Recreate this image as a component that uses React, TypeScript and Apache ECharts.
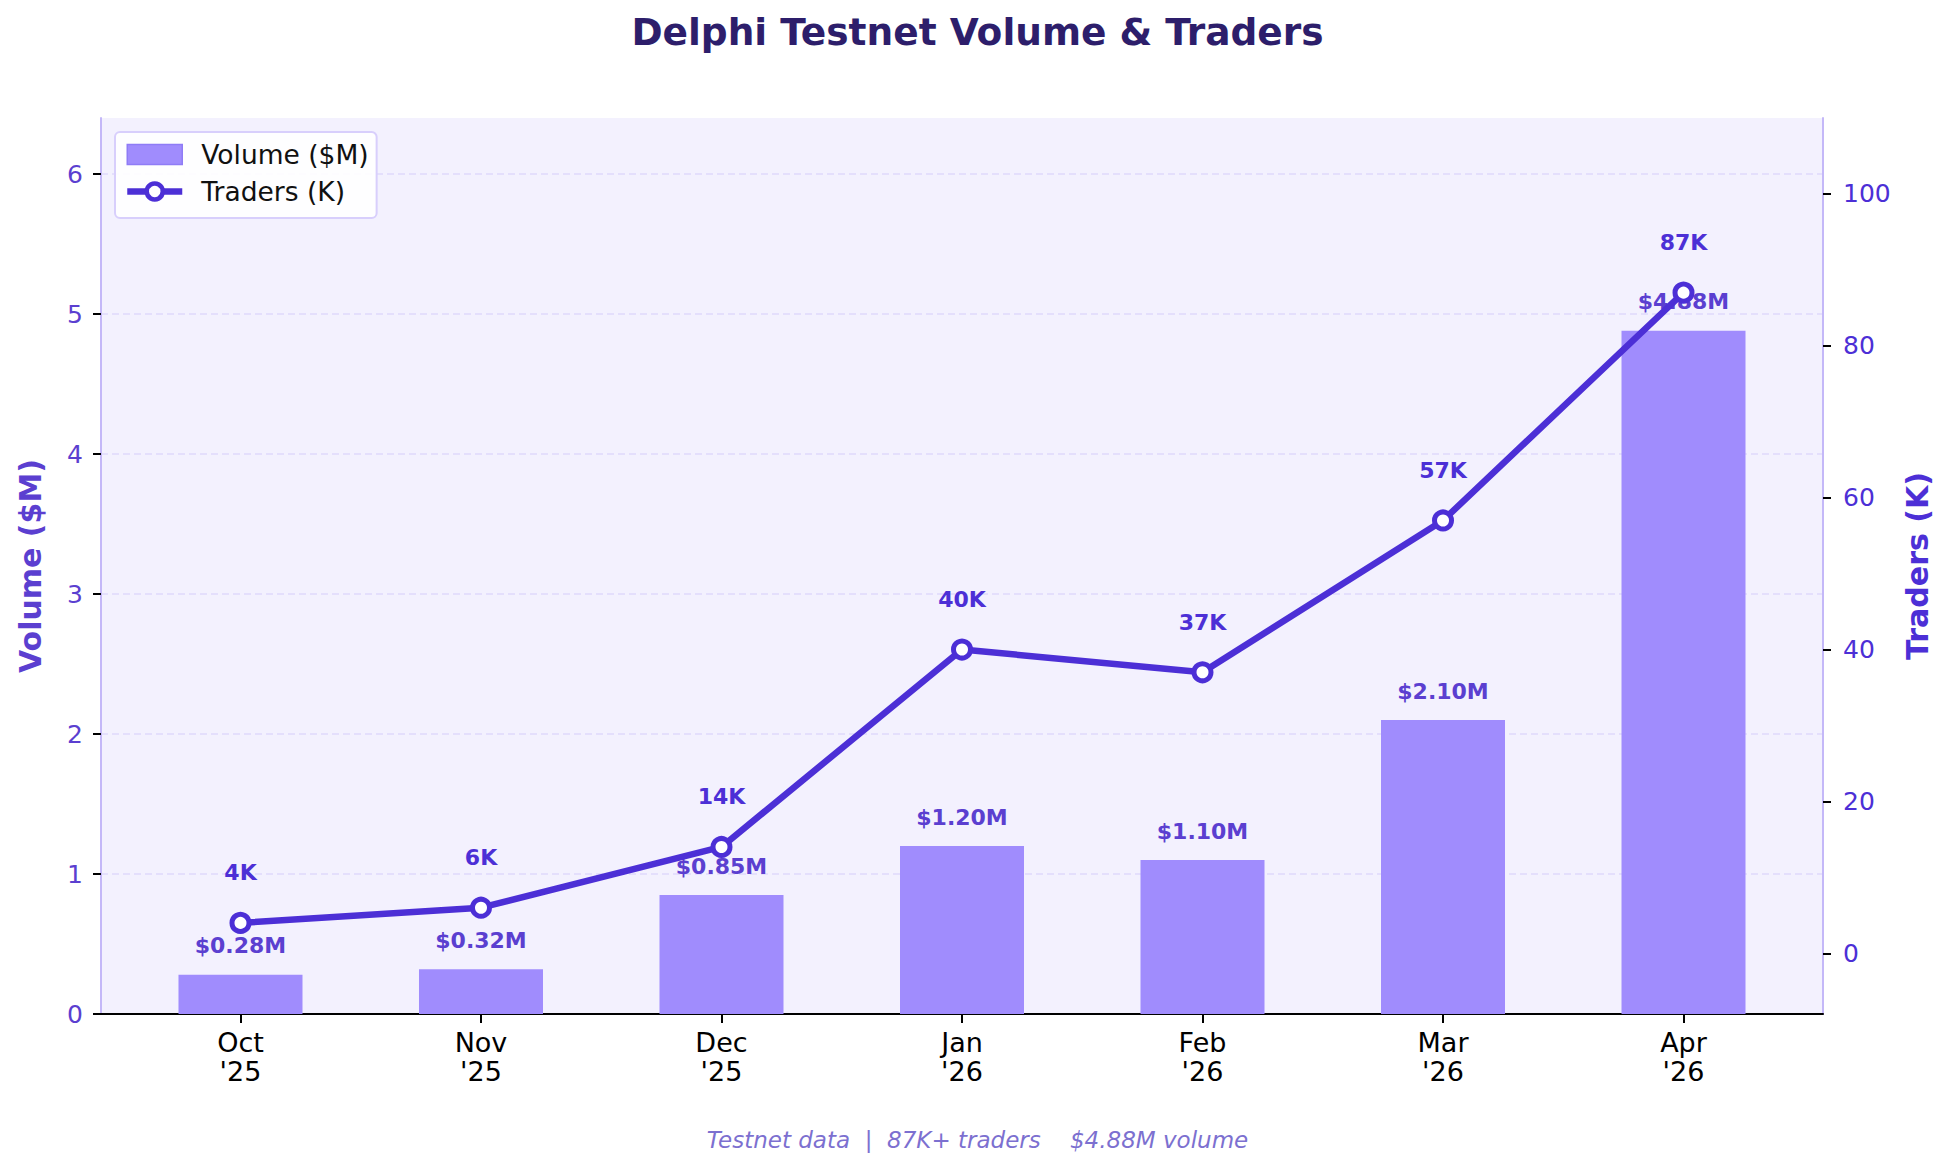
import React, { useEffect, useRef } from "react";
import * as echarts from "echarts";

// monthly testnet figures
const months = ["Oct\n'25", "Nov\n'25", "Dec\n'25", "Jan\n'26", "Feb\n'26", "Mar\n'26", "Apr\n'26"];
const volume = [0.28, 0.32, 0.85, 1.2, 1.1, 2.1, 4.88];
const traders = [4, 6, 14, 40, 37, 57, 87];
const volumeTicks = [0, 1, 2, 3, 4, 5, 6];
const traderTicks = [0, 20, 40, 60, 80, 100];
const monthIdx = months.map((_, i) => i);

const FONT = "DejaVu Sans";
const LINE = "#4c2fd6";
const SOFT = "#5b3fd0";

const App = () => {
  const chartRef = useRef<HTMLDivElement>(null);

  useEffect(() => {
    const dom = chartRef.current;
    if (!dom) return;
    const chart = echarts.init(dom, null, { renderer: "svg" });

    const option = {
      animation: false,
      textStyle: { fontFamily: FONT },
      title: [
        {
          text: "Delphi Testnet Volume & Traders",
          left: "center",
          top: 13,
          padding: 0,
          textStyle: { fontSize: 37.5, fontWeight: "bold", color: "#2d1e6b", fontFamily: FONT },
        },
        {
          text: "Testnet data  |  87K+ traders    $4.88M volume",
          left: "center",
          top: 1128,
          padding: 0,
          textStyle: { fontSize: 23, fontStyle: "italic", fontWeight: "normal", color: "#7c70d0", fontFamily: FONT },
        },
      ],
      legend: {
        orient: "vertical",
        left: 115,
        top: 132,
        padding: [9, 8, 13, 9],
        itemGap: 10,
        itemWidth: 55,
        itemHeight: 20,
        selectedMode: false,
        backgroundColor: "rgba(255,255,255,0.9)",
        borderColor: "#d8cffc",
        borderWidth: 2,
        borderRadius: 5,
        textStyle: { fontSize: 26.5, color: "#111", fontFamily: FONT, padding: [0, 0, 0, 14] },
        data: [
          {
            name: "Volume ($M)",
            icon: "rect",
            itemStyle: { color: "#a08cfd", borderColor: "#8f7cf6", borderWidth: 1.5 },
          },
          {
            name: "Traders (K)",
            lineStyle: { color: LINE, width: 6.5 },
            itemStyle: { color: "#ffffff", borderColor: LINE, borderWidth: 4.5 },
          },
        ],
      },
      grid: {
        left: 101,
        top: 118,
        right: 132,
        bottom: 156,
        show: true,
        backgroundColor: "#f3f1fe",
        borderWidth: 0,
      },
      xAxis: {
        type: "value",
        min: -0.58,
        max: 6.58,
        axisLine: { show: true, onZero: false, lineStyle: { color: "#000", width: 2 } },
        axisTick: { show: true, customValues: monthIdx, length: 9, lineStyle: { color: "#000", width: 2 } },
        axisLabel: {
          customValues: monthIdx,
          formatter: (v: number) => months[Math.round(v)],
          color: "#000",
          fontSize: 27,
          lineHeight: 29,
          margin: 14,
          fontFamily: FONT,
        },
        splitLine: { show: false },
      },
      yAxis: [
        {
          type: "value",
          min: 0,
          max: 6.4,
          name: "Volume ($M)",
          nameLocation: "middle",
          nameGap: 56,
          nameTextStyle: { fontSize: 30, fontWeight: "bold", color: SOFT, fontFamily: FONT },
          axisLine: { show: true, onZero: false, lineStyle: { color: "#c4b8f8", width: 2 } },
          axisTick: { show: true, customValues: volumeTicks, length: 8, lineStyle: { color: "#000", width: 2 } },
          axisLabel: { customValues: volumeTicks, color: SOFT, fontSize: 25, margin: 18, fontFamily: FONT },
          splitLine: { show: true, lineStyle: { color: "#e0d9fc", width: 1.5, type: [7, 4] } },
        },
        {
          type: "value",
          min: -8,
          max: 110,
          name: "Traders (K)",
          nameLocation: "middle",
          nameGap: 79,
          nameTextStyle: { fontSize: 30, fontWeight: "bold", color: LINE, fontFamily: FONT },
          axisLine: { show: true, onZero: false, lineStyle: { color: "#c4b8f8", width: 2 } },
          axisTick: { show: true, customValues: traderTicks, length: 8, lineStyle: { color: "#000", width: 2 } },
          axisLabel: { customValues: traderTicks, color: LINE, fontSize: 25, margin: 20, fontFamily: FONT },
          splitLine: { show: false },
        },
      ],
      series: [
        {
          name: "Volume ($M)",
          type: "bar",
          z: 2,
          barWidth: 124,
          data: volume.map((v, i) => [i, v]),
          itemStyle: { color: "#a08cfd" },
          label: {
            show: true,
            position: "top",
            distance: 18,
            formatter: (p: any) => "$" + p.value[1].toFixed(2) + "M",
            fontSize: 22,
            fontWeight: "bold",
            color: SOFT,
            fontFamily: FONT,
          },
        },
        {
          name: "Traders (K)",
          type: "line",
          yAxisIndex: 1,
          z: 3,
          data: traders.map((v, i) => [i, v]),
          symbol: "circle",
          symbolSize: 17,
          lineStyle: { color: LINE, width: 6.5 },
          itemStyle: { color: "#ffffff", borderColor: LINE, borderWidth: 5 },
          label: {
            show: true,
            position: "top",
            distance: 28,
            formatter: (p: any) => p.value[1] + "K",
            fontSize: 22,
            fontWeight: "bold",
            color: LINE,
            fontFamily: FONT,
          },
        },
      ],
    };

    chart.setOption(option);

    return () => {
      chart.dispose();
    };
  }, []);

  return (
    <div
      ref={chartRef}
      style={{ position: "fixed", left: 0, top: 0, width: 1955, height: 1170, background: "#ffffff" }}
    ></div>
  );
};

export default App;
